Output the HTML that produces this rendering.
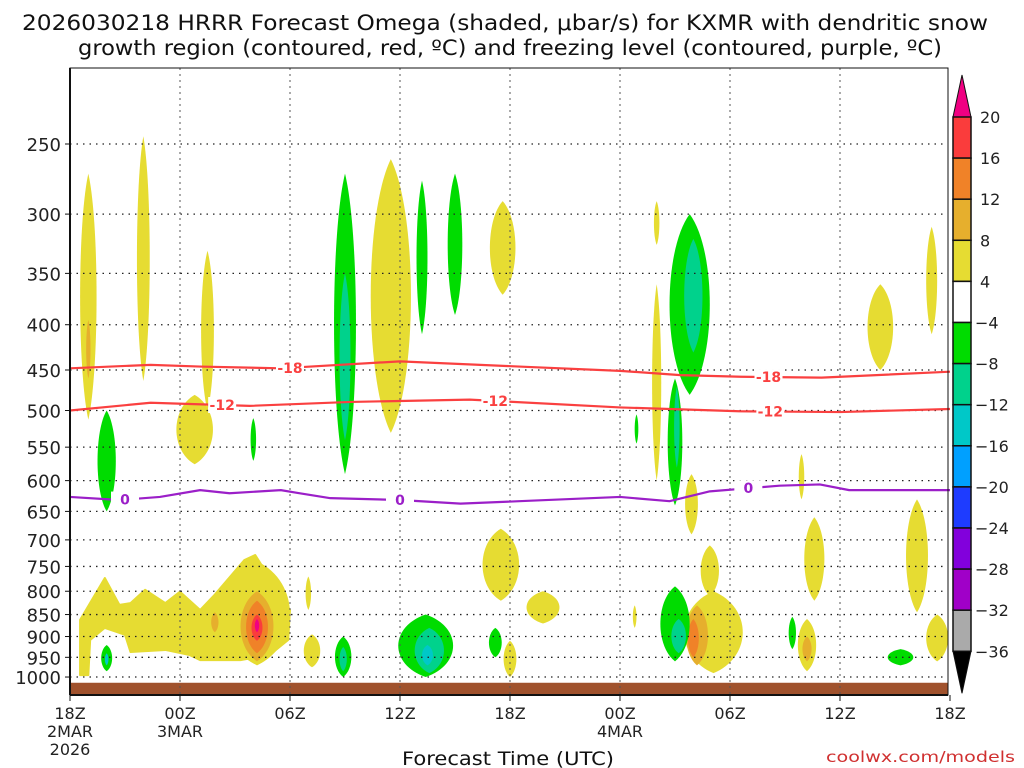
<!DOCTYPE html>
<html><head><meta charset="utf-8"><style>
body{margin:0;background:#fff;}
svg{display:block;font-family:"DejaVu Sans","Liberation Sans",sans-serif;}
</style></head><body>
<svg id="c" width="1024" height="768" viewBox="0 0 1024 768">
<text x="22" y="30" font-size="21" textLength="966" lengthAdjust="spacingAndGlyphs" fill="#111">2026030218 HRRR Forecast Omega (shaded, μbar/s) for KXMR with dendritic snow</text>
<text x="78" y="55" font-size="21" textLength="864" lengthAdjust="spacingAndGlyphs" fill="#111">growth region (contoured, red, ºC) and freezing level (contoured, purple, ºC)</text>
<g id="shades"></g>
<g id="grid"></g>
<g id="lines"></g>
<g id="axes"></g>
<g id="cbar"></g>
<text x="402" y="765" font-size="19" textLength="212" lengthAdjust="spacingAndGlyphs" fill="#111">Forecast Time (UTC)</text>
<text x="826" y="762" font-size="15" textLength="189" lengthAdjust="spacingAndGlyphs" fill="#d03030">coolwx.com/models</text>
</svg>
<script>
// ---- data ----
const pressureTicks=[250,300,350,400,450,500,550,600,650,700,750,800,850,900,950,1000];
const timeTicks=[0,6,12,18,24,30,36,42,48];
const timeLabels=[["18Z","2MAR","2026"],["00Z","3MAR"],["06Z"],["12Z"],["18Z"],["00Z","4MAR"],["06Z"],["12Z"],["18Z"]];
const cbarLevels=[20,16,12,8,4,-4,-8,-12,-16,-20,-24,-28,-32,-36];
const cbarColors=["#fa3c3c","#f08228","#e6af2d","#e6dc32","#ffffff","#00dc00","#00d28c","#00c8c8","#00a0ff","#1e3cff","#8200dc","#a000c8","#aaaaaa"];
// blobs: [hour, pTop, pBottom, halfWidthHours, levelIndex]
const blobHours=[1.0,1.0,4.0,7.5,6.8,17.5,23.6,32.0,32.0,47.0,44.2,10.2,10.2,10.2,10.2,10.2,7.9,13.0,13.2,23.5,25.8,24.0,30.8,33.9,34.9,35.1,34.2,34.0,40.6,39.9,40.2,40.2,46.2,47.3,
 2.0,2.0,2.0,10.0,15.0,15.0,14.9,14.9,19.2,21.0,19.4,19.6,19.5,23.2,30.9,33.8,33.0,34.0,33.1,33.0,33.2,39.4,45.3];
const blobTop=[270,395,245,330,480,260,290,290,360,310,360,740,800,820,850,860,845,770,895,680,800,910,830,590,710,800,830,860,660,560,860,900,630,850,
 500,920,940,510,270,350,900,925,275,270,850,880,920,880,505,300,460,320,470,790,860,855,930];
const blobBottom=[512,460,463,500,575,530,370,325,600,410,450,970,960,940,910,890,890,840,975,820,870,1000,880,690,810,990,970,950,820,630,985,960,845,960,
 650,985,970,570,590,540,1000,985,410,390,1000,990,970,950,545,480,640,430,580,960,940,930,970];
const blobWidth=[0.45,0.12,0.35,0.35,1.0,1.1,0.7,0.15,0.25,0.3,0.7,1.8,0.9,0.6,0.3,0.12,0.2,0.15,0.45,1.0,0.9,0.35,0.1,0.35,0.5,1.6,0.6,0.3,0.55,0.15,0.5,0.25,0.6,0.6,
 0.5,0.3,0.1,0.15,0.6,0.3,0.45,0.2,0.3,0.4,1.5,0.8,0.3,0.35,0.1,1.1,0.4,0.5,0.15,0.8,0.4,0.2,0.7];
const blobLevel=[0,1,0,0,0,0,0,0,0,0,0,0,1,2,3,4,1,0,0,0,0,0,0,0,0,0,1,2,0,0,0,1,0,0,
 5,5,7,5,5,6,5,6,5,5,5,6,7,5,5,5,5,6,6,5,6,5,5];
const shadeColors=["#e6dc32","#e6af2d","#f08228","#fa3c3c","#f00082","#00dc00","#00d28c","#00c8c8"];
const bandHours=[0.55,0.55,1.9,2.7,3.3,4.1,5.2,6.0,7.1,7.9,9.5,10.1,12,11.9,10.9,9.3,7.1,6.5,5.2,3.3,3.0,1.9,1.1,1.0];
const bandPressure=[995,862,773,829,825,797,825,801,840,807,738,728,840,908,944,957,957,944,932,937,896,880,908,995];
const m18Hours=[0,4.4,7.1,11.5,18,24.5,30,33.3,36.6,41,48];
const m18Pressure=[448,444,446,448,440,446,451,456,458,459,452];
const m12Hours=[0,4.4,9.8,15.3,21.8,30,36.5,42,48];
const m12Pressure=[500,490,494,489,486,496,501,502,498];
const zeroHours=[0,2.7,4.9,7.1,8.7,11.5,12.5,14.2,18,21.3,24.5,30,32.7,34.9,38.7,40.9,42.5,48];
const zeroPressure=[626,631,626,615,620,615,620,628,631,637,633,626,633,617,608,606,615,615];
const labelHours18=[12.0,38.1], labelHours12=[8.3,23.2,38.2], labelHours0=[3.0,18.0,37.0];

// ---- scales ----
const X0=70,X1=948,Y0=68,Y1=695;
const xs=h=>X0+h*110/6;
const ys=p=>144+384.5*Math.log(p/250);
const NS="http://www.w3.org/2000/svg";
function mk(tag,attrs,parent){const e=document.createElementNS(NS,tag);for(const k in attrs)e.setAttribute(k,attrs[k]);parent.appendChild(e);return e;}
const shades=document.getElementById('shades'),grid=document.getElementById('grid'),lines=document.getElementById('lines'),axes=document.getElementById('axes'),cbar=document.getElementById('cbar');
mk('clipPath',{id:'clip'},shades);
mk('rect',{x:X0,y:Y0,width:X1-X0,height:Y1-Y0},shades.lastChild);
shades.setAttribute('clip-path','url(#clip)');

let bp=bandHours.map((h,i)=>xs(h)+','+ys(bandPressure[i])).join(' ');
const band=mk('polygon',{points:bp,fill:shadeColors[0],'stroke':shadeColors[0],'stroke-width':2,'stroke-linejoin':'round'},shades);


blobHours.forEach((h,i)=>{
  const yt=ys(blobTop[i]),yb=ys(blobBottom[i]),cx=xs(h),rx=blobWidth[i]*110/6,hh=yb-yt;
  const k=rx*1.33;
  const d=`M${cx} ${yt} C${cx+k} ${yt+hh*0.2} ${cx+k} ${yb-hh*0.2} ${cx} ${yb} C${cx-k} ${yb-hh*0.2} ${cx-k} ${yt+hh*0.2} ${cx} ${yt}Z`;
  const e=mk('path',{d:d,fill:shadeColors[blobLevel[i]]},shades);
  
  
});
const g=mk('rect',{x:X0,y:ys(1015),width:X1-X0,height:Y1-ys(1015),fill:'#a0522d'},shades);



pressureTicks.forEach(p=>{mk('line',{x1:X0,x2:X1,y1:ys(p),y2:ys(p),stroke:'#222','stroke-width':1.3,'stroke-dasharray':'1.5 5'},grid);});
timeTicks.forEach(t=>{if(t>0&&t<48)mk('line',{x1:xs(t),x2:xs(t),y1:Y0,y2:Y1,stroke:'#555','stroke-width':1,'stroke-dasharray':'2 4'},grid);});

function contour(hs,ps,color,name,labHours,labText){
  const d=hs.map((h,i)=>(i?'L':'M')+xs(h)+' '+ys(ps[i])).join(' ');
  const l=mk('path',{d:d,fill:'none',stroke:color,'stroke-width':2.2,'stroke-linejoin':'round'},lines);
  
  
  labHours.forEach(h=>{
    let j=0;while(j<hs.length-2&&hs[j+1]<h)j++;
    const f=(h-hs[j])/(hs[j+1]-hs[j]);const y=ys(ps[j]+(ps[j+1]-ps[j])*f);
    mk('rect',{x:xs(h)-14,y:y-8,width:28,height:16,fill:'#fff'},lines);
    const t=mk('text',{x:xs(h),y:y+5,'font-size':14,'font-weight':'bold','text-anchor':'middle',fill:color},lines);
    t.textContent=labText;
    
    
  });
}
contour(m18Hours,m18Pressure,'#fa4040','contour-minus18',labelHours18,'-18');
contour(m12Hours,m12Pressure,'#fa4040','contour-minus12',labelHours12,'-12');
contour(zeroHours,zeroPressure,'#9b1fc8','freezing-level',labelHours0,'0');

mk('rect',{x:X0,y:Y0,width:X1-X0,height:Y1-Y0,fill:'none',stroke:'#111','stroke-width':1},axes);
mk('line',{x1:X0,x2:X0,y1:Y0,y2:Y1,stroke:'#111','stroke-width':2},axes);
mk('line',{x1:X0,x2:X1,y1:Y1,y2:Y1,stroke:'#111','stroke-width':2},axes);
pressureTicks.forEach(p=>{
  mk('line',{x1:X0-5,x2:X0,y1:ys(p),y2:ys(p),stroke:'#111'},axes);
  const t=mk('text',{x:61,y:ys(p)+7,'font-size':18,'text-anchor':'end',fill:'#222'},axes);
  t.textContent=p;
  
  
});
timeTicks.forEach((h,i)=>{
  mk('line',{x1:xs(h),x2:xs(h),y1:Y1,y2:Y1+6,stroke:'#111'},axes);
  timeLabels[i].forEach((s,k)=>{
    const t=mk('text',{x:xs(h),y:719+k*18,'font-size':16,'text-anchor':'middle',fill:'#222'},axes);
    t.textContent=s;
    
    
  });
});

const CX=953,CW=18,cy0=117,cstep=41.1;
const cy=i=>cy0+i*cstep;
mk('polygon',{points:`${CX},${cy(0)} ${CX+CW},${cy(0)} ${CX+CW/2},${cy(0)-42}`,fill:'#f00082',stroke:'#111'},cbar);
cbarColors.forEach((c,i)=>{
  const r=mk('rect',{x:CX,y:cy(i),width:CW,height:cstep,fill:c,stroke:'#111','stroke-width':1.5},cbar);
  
  
});
mk('polygon',{points:`${CX},${cy(13)} ${CX+CW},${cy(13)} ${CX+CW/2},${cy(13)+42}`,fill:'#000',stroke:'#111'},cbar);
cbarLevels.forEach((v,i)=>{
  const t=mk('text',{x:v<0?975:980,y:cy(i)+6,'font-size':16,fill:'#222'},cbar);
  t.textContent=v<0?'\u2212'+(-v):v;
  
  
});
</script>
</body></html>
